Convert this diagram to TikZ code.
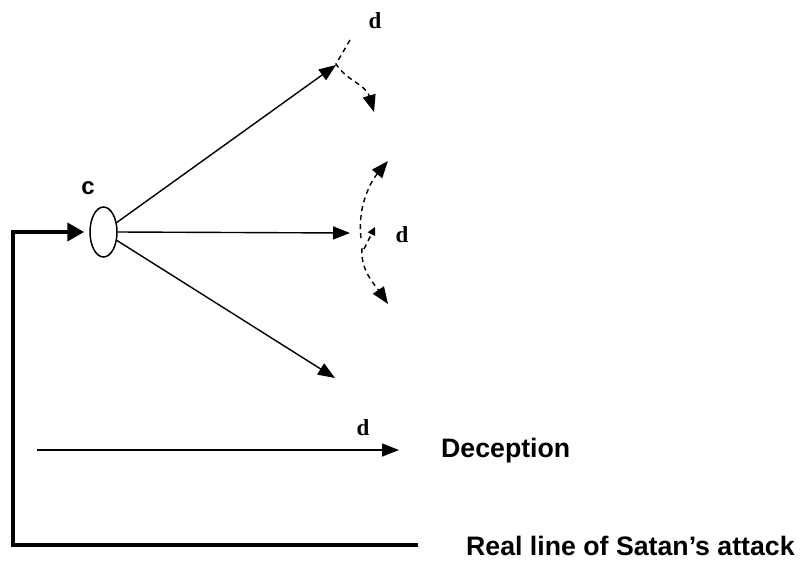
\documentclass[tikz,border=0pt]{standalone}
\usepackage{fontspec}
\setmainfont{Liberation Serif}
\setsansfont{Liberation Sans}
\usetikzlibrary{arrows.meta,shapes.geometric}
\tikzset{
  arr/.style={line width=1.4pt, -{Triangle[length=17pt,width=13pt]}},
  dsh/.style={line width=1.4pt, dash pattern=on 5pt off 4pt, -{Triangle[length=17pt,width=13pt]}},
  dshsmall/.style={line width=1.4pt, dash pattern=on 5pt off 4pt, -{Triangle[length=8pt,width=8pt]}},
  thick line/.style={line width=4pt, -{Triangle[length=17pt,width=18pt]}},
  dlab/.style={font=\rmfamily\bfseries\fontsize{23}{27}\selectfont, inner sep=0pt},
  clab/.style={font=\sffamily\bfseries\fontsize{24}{28}\selectfont, inner sep=0pt},
  slab/.style={font=\sffamily\bfseries\fontsize{26.7}{31}\selectfont, inner sep=0pt, anchor=west},
}
\begin{document}
\begin{tikzpicture}[x=1pt,y=-1pt]
\useasboundingbox (0,0) rectangle (805,563);
% central ellipse
\node[ellipse, draw, line width=1.5pt, minimum width=27pt, minimum height=50pt, inner sep=0pt] (c) at (103.5,232) {};
\node[clab] (clabel) at (88,188) {c};
% arrow end points
\coordinate (u) at (336,65);
\coordinate (m) at (350,233);
\coordinate (l) at (335,378);
\draw[arr] (c) -- (u);
\draw[arr] (c.east) -- (m);
\draw[arr] (c) -- (l);
% upper deflection
\coordinate (ud0) at (350,40);
\coordinate (ud1) at (374,112);
\draw[dsh] (ud0) -- (336,64) .. controls (346,80) and (366,85) .. (ud1);
\node[dlab] (d1) at (375,21) {d};
% middle deflection
\coordinate (md0) at (361,238);
\coordinate (mdu) at (388,161);
\coordinate (md1) at (362,248);
\coordinate (mdl) at (388,304);
\coordinate (mds) at (375,227);
\coordinate (mds0) at (364,249);
\draw[dsh] (md0) .. controls (357,205) and (372,180) .. (mdu);
\draw[dsh] (md1) .. controls (360,270) and (375,285) .. (mdl);
\draw[dshsmall] (mds0) -- (mds);
\node[dlab] (d2) at (402,235) {d};
% lower label
\node[dlab] (d3) at (363,428) {d};
% legend
\coordinate (dec0) at (37,450);
\coordinate (dec1) at (399,450);
\draw[arr] (dec0) -- (dec1);
\node[slab] (dec) at (441,451) {Deception};
\coordinate (real0) at (418,545);
\draw[thick line, shorten >=5pt] (real0) -| (13,232) -- (c.west);
\node[slab] (real) at (466,546) {Real line of Satan’s attack};
\end{tikzpicture}
\end{document}
